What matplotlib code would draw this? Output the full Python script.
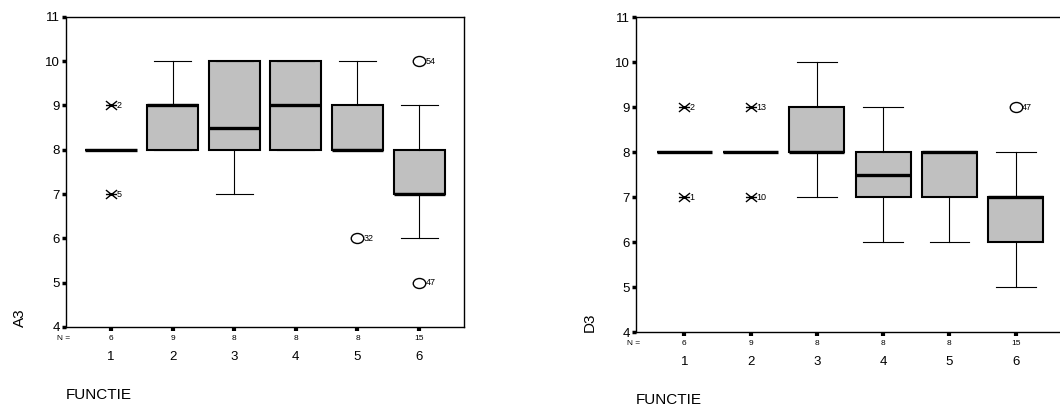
import matplotlib.pyplot as plt
from matplotlib.path import Path
from matplotlib.transforms import Affine2D, blended_transform_factory

plt.rcParams["font.family"] = ["Liberation Sans", "DejaVu Sans"]

groups = [1, 2, 3, 4, 5, 6]
n_counts = [6, 9, 8, 8, 8, 15]

# A3 per FUNCTIE group
a3_q1 = [8, 8, 8, 8, 8, 7]
a3_med = [8, 9, 8.5, 9, 8, 7]
a3_q3 = [8, 9, 10, 10, 9, 8]
a3_lo = [8, 8, 7, 8, 8, 6]
a3_hi = [8, 10, 10, 10, 10, 9]
a3_out_x = [5, 6, 6]
a3_out_y = [6, 10, 5]
a3_out_lab = ["32", "54", "47"]
a3_ext_x = [1, 1]
a3_ext_y = [9, 7]
a3_ext_lab = ["2", "5"]

# D3 per FUNCTIE group
d3_q1 = [8, 8, 8, 7, 7, 6]
d3_med = [8, 8, 8, 7.5, 8, 7]
d3_q3 = [8, 8, 9, 8, 8, 7]
d3_lo = [8, 8, 7, 6, 6, 5]
d3_hi = [8, 8, 10, 9, 8, 8]
d3_out_x = [6]
d3_out_y = [9]
d3_out_lab = ["47"]
d3_ext_x = [1, 1, 2, 2]
d3_ext_y = [9, 7, 9, 7]
d3_ext_lab = ["2", "1", "13", "10"]

# SPSS-style markers: flattened circle for outliers, x with a bar for extremes
OVAL = Path.unit_circle().transformed(Affine2D().scale(1.0, 0.8))
STAR = Path([(-1, -0.8), (1, 0.8), (-1, 0.8), (1, -0.8), (-1, 0), (1, 0)],
            [Path.MOVETO, Path.LINETO, Path.MOVETO, Path.LINETO, Path.MOVETO, Path.LINETO])


def draw_panel(ax, q1, med, q3, lo, hi, out_x, out_y, out_lab, ext_x, ext_y, ext_lab, ylabel):
    stats = [dict(q1=a, med=m, q3=b, whislo=l, whishi=h, fliers=[])
             for a, m, b, l, h in zip(q1, med, q3, lo, hi)]
    ax.bxp(stats, positions=groups, widths=0.83, capwidths=0.6, patch_artist=True,
           showfliers=False,
           boxprops=dict(facecolor="#c0c0c0", edgecolor="black", linewidth=1.5),
           medianprops=dict(color="black", linewidth=2.4, solid_capstyle="butt"),
           whiskerprops=dict(color="black", linewidth=0.8),
           capprops=dict(color="black", linewidth=0.8))

    ax.plot(out_x, out_y, linestyle="none", marker=OVAL, markersize=9,
            markerfacecolor="white", markeredgecolor="black", markeredgewidth=1.0)
    ax.plot(ext_x, ext_y, linestyle="none", marker=STAR, markersize=8,
            color="black", markeredgewidth=1.0)
    for x, y, s in zip(out_x, out_y, out_lab):
        ax.annotate(s, (x, y), xytext=(4.5, 0), textcoords="offset points",
                    ha="left", va="center", fontsize=6.5)
    for x, y, s in zip(ext_x, ext_y, ext_lab):
        ax.annotate(s, (x, y), xytext=(3.8, 0), textcoords="offset points",
                    ha="left", va="center", fontsize=6.5)

    ax.set_xlim(0.27, 6.73)
    ax.set_ylim(4, 11)
    ax.set_yticks(range(4, 12))
    ax.set_xticks(groups)
    ax.set_xticklabels([str(g) for g in groups])
    ax.tick_params(axis="y", direction="out", length=3, width=2.5, pad=1.5, labelsize=9.5)
    ax.tick_params(axis="x", direction="out", length=3, width=3, pad=14.5, labelsize=9.5)
    for sp in ax.spines.values():
        sp.set_linewidth(1.0)

    trans = blended_transform_factory(ax.transData, ax.transAxes)
    for g, n in zip(groups, n_counts):
        ax.text(g, -0.036, str(n), transform=trans, ha="center", va="center", fontsize=6)
    ax.text(-0.006, -0.036, "N =", transform=ax.transAxes, ha="center", va="center", fontsize=6)

    ax.set_xlabel("FUNCTIE", loc="left", fontsize=11, labelpad=17.5)
    ax.set_ylabel(ylabel, loc="bottom", fontsize=11, labelpad=13)


fig = plt.figure(figsize=(10.6, 4.05), dpi=100)
ax1 = fig.add_axes([0.0623, 0.1926, 0.3755, 0.766])
ax2 = fig.add_axes([0.6, 0.180, 0.4038, 0.777])

draw_panel(ax1, a3_q1, a3_med, a3_q3, a3_lo, a3_hi, a3_out_x, a3_out_y, a3_out_lab,
           a3_ext_x, a3_ext_y, a3_ext_lab, "A3")
draw_panel(ax2, d3_q1, d3_med, d3_q3, d3_lo, d3_hi, d3_out_x, d3_out_y, d3_out_lab,
           d3_ext_x, d3_ext_y, d3_ext_lab, "D3")

fig.savefig("out.png", dpi=100)
